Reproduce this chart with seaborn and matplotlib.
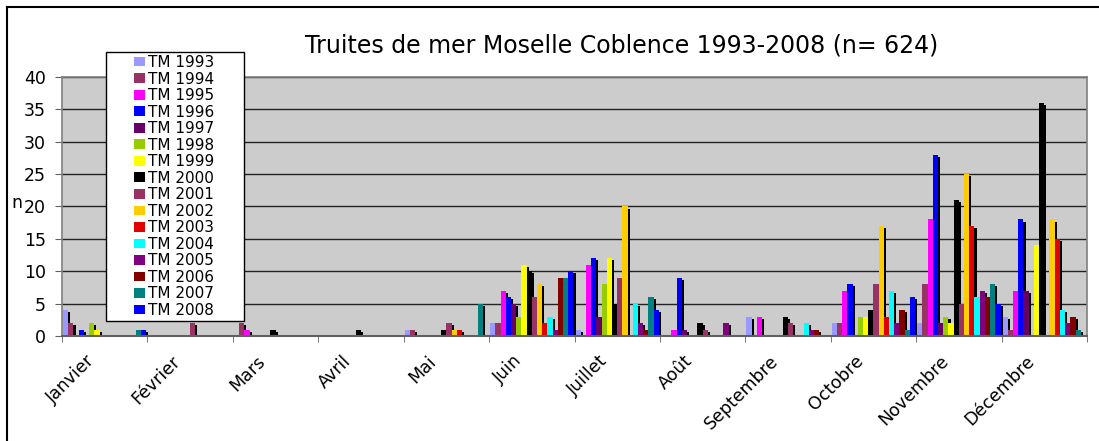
import matplotlib
matplotlib.use("Agg")
import matplotlib.pyplot as plt
import matplotlib.patheffects as pe
from matplotlib.patches import Patch, Rectangle
from matplotlib.lines import Line2D
from matplotlib.transforms import ScaledTranslation
import numpy as np
import pandas as pd
import seaborn as sns

# Daten: Anzahl Meerforellen pro Monat und Jahr
monate = ["Janvier", "Février", "Mars", "Avril", "Mai", "Juin",
          "Juillet", "Août", "Septembre", "Octobre", "Novembre", "Décembre"]

tm1993 = [4, 0, 0, 0, 1, 2, 1, 0, 3, 2, 2, 3]
tm1994 = [2, 0, 2, 0, 1, 2, 0, 0, 0, 2, 8, 1]
tm1995 = [0, 0, 1, 0, 0, 7, 11, 1, 3, 7, 18, 7]
tm1996 = [1, 0, 0, 0, 0, 6, 12, 9, 0, 8, 28, 18]
tm1997 = [0, 0, 0, 0, 0, 5, 3, 1, 0, 0, 2, 7]
tm1998 = [2, 0, 0, 0, 0, 3, 8, 0, 0, 3, 3, 0]
tm1999 = [1, 0, 0, 0, 0, 11, 12, 0, 0, 3, 2, 14]
tm2000 = [0, 0, 1, 1, 1, 10, 5, 2, 3, 4, 21, 36]
tm2001 = [0, 2, 0, 0, 2, 6, 9, 1, 2, 8, 5, 0]
tm2002 = [0, 0, 0, 0, 1, 8, 20, 0, 0, 17, 25, 18]
tm2003 = [0, 0, 0, 0, 1, 2, 0, 0, 0, 3, 17, 15]
tm2004 = [0, 0, 0, 0, 0, 3, 5, 0, 2, 7, 6, 4]
tm2005 = [0, 0, 0, 0, 0, 1, 2, 2, 1, 2, 7, 2]
tm2006 = [0, 0, 0, 0, 0, 9, 1, 0, 1, 4, 6, 3]
tm2007 = [1, 0, 0, 0, 5, 9, 6, 0, 0, 1, 8, 1]
tm2008 = [1, 0, 0, 0, 0, 10, 4, 0, 0, 6, 5, 0]

serien = ["TM 1993", "TM 1994", "TM 1995", "TM 1996", "TM 1997", "TM 1998",
          "TM 1999", "TM 2000", "TM 2001", "TM 2002", "TM 2003", "TM 2004",
          "TM 2005", "TM 2006", "TM 2007", "TM 2008"]
werte = [tm1993, tm1994, tm1995, tm1996, tm1997, tm1998, tm1999, tm2000,
         tm2001, tm2002, tm2003, tm2004, tm2005, tm2006, tm2007, tm2008]

farben = ["#9999ff", "#993366", "#ff00ff", "#0000ff", "#660066", "#99cc00",
          "#ffff00", "#000000", "#993366", "#ffcc00", "#e00000", "#00ffff",
          "#800080", "#800000", "#008080", "#0000ff"]

# Tabelle im Long-Format aufbauen
zeilen = []
for s, w in zip(serien, werte):
    for m, v in zip(monate, w):
        zeilen.append({"Monat": m, "Serie": s, "Anzahl": v})
tabelle = pd.DataFrame(zeilen)

W, H = 1099, 441
fig = plt.figure(figsize=(W / 100, H / 100), dpi=100)
ax = fig.add_axes([62 / W, 1 - 336 / H, (1087 - 62) / W, (336 - 77) / H])

sns.barplot(data=tabelle, x="Monat", y="Anzahl", hue="Serie",
            order=monate, hue_order=serien, palette=farben,
            width=0.975, gap=0, errorbar=None, saturation=1,
            linewidth=0, edgecolor="none", legend=False, ax=ax)

# Schatten wie in Excel
for p in ax.patches:
    p.set_path_effects([pe.SimplePatchShadow(offset=(1.5, -1.5), shadow_rgbFace="black", alpha=1),
                        pe.Normal()])

ax.set_facecolor("#cccccc")
ax.set_xlim(-0.5, 11.5)
ax.set_ylim(0, 40)
ax.set_yticks(np.arange(0, 41, 5))
ax.yaxis.grid(True, color="#222222", linewidth=1)
ax.set_axisbelow(True)
ax.set_xlabel("")
ax.set_ylabel("")

for side in ["left", "right", "top"]:
    ax.spines[side].set_color("#808080")
    ax.spines[side].set_linewidth(1.2)
ax.spines["bottom"].set_color("#606060")
ax.spines["bottom"].set_linewidth(1.5)

ax.tick_params(axis="y", labelsize=12.5, length=5, color="#606060", pad=6.5)
ax.set_xticks(np.arange(12))
ax.set_xticklabels(monate, rotation=45, ha="right", va="top", rotation_mode="anchor", fontsize=12.5)
ax.set_xticks(np.arange(-0.5, 12, 1), minor=True)
ax.tick_params(axis="x", which="major", length=0, pad=11.5)
ax.tick_params(axis="x", which="minor", length=4.5, color="#606060")
verschiebung = ScaledTranslation(-19 / 100, 0, fig.dpi_scale_trans)
for lab in ax.get_xticklabels():
    lab.set_transform(lab.get_transform() + verschiebung)

# Titel und Achsenbeschriftung
fig.text(622 / W, 1 - 52 / H, "Truites de mer Moselle Coblence 1993-2008 (n= 624)",
         ha="center", va="baseline", fontsize=17)
fig.text(11 / W, 1 - 208 / H, "n", ha="left", va="baseline", fontsize=12.5)

# Legende mit eigenem Rahmen
fig.patches.append(Rectangle((105.7 / W, 1 - 321 / H), (244 - 105.7) / W, (321 - 52) / H,
                             transform=fig.transFigure, facecolor="white",
                             edgecolor="black", linewidth=1, zorder=4))
griffe = [Patch(facecolor=f, edgecolor="none") for f in farben]
fig.legend(griffe, serien, loc="upper left", bbox_to_anchor=(134 / W, 1 - 55 / H),
           bbox_transform=fig.transFigure, frameon=False, fontsize=11,
           labelspacing=0.1, handlelength=0.7, handleheight=0.6,
           handletextpad=0.2, borderpad=0, borderaxespad=0).set_zorder(5)

# Rahmen des Diagramms (nur links und oben sichtbar)
fig.lines.append(Line2D([7 / W, 7 / W], [0, 1 - 7 / H], transform=fig.transFigure, color="black", linewidth=1.5))
fig.lines.append(Line2D([7 / W, 1], [1 - 7 / H, 1 - 7 / H], transform=fig.transFigure, color="black", linewidth=1.5))

fig.savefig("out.png", dpi=100)
